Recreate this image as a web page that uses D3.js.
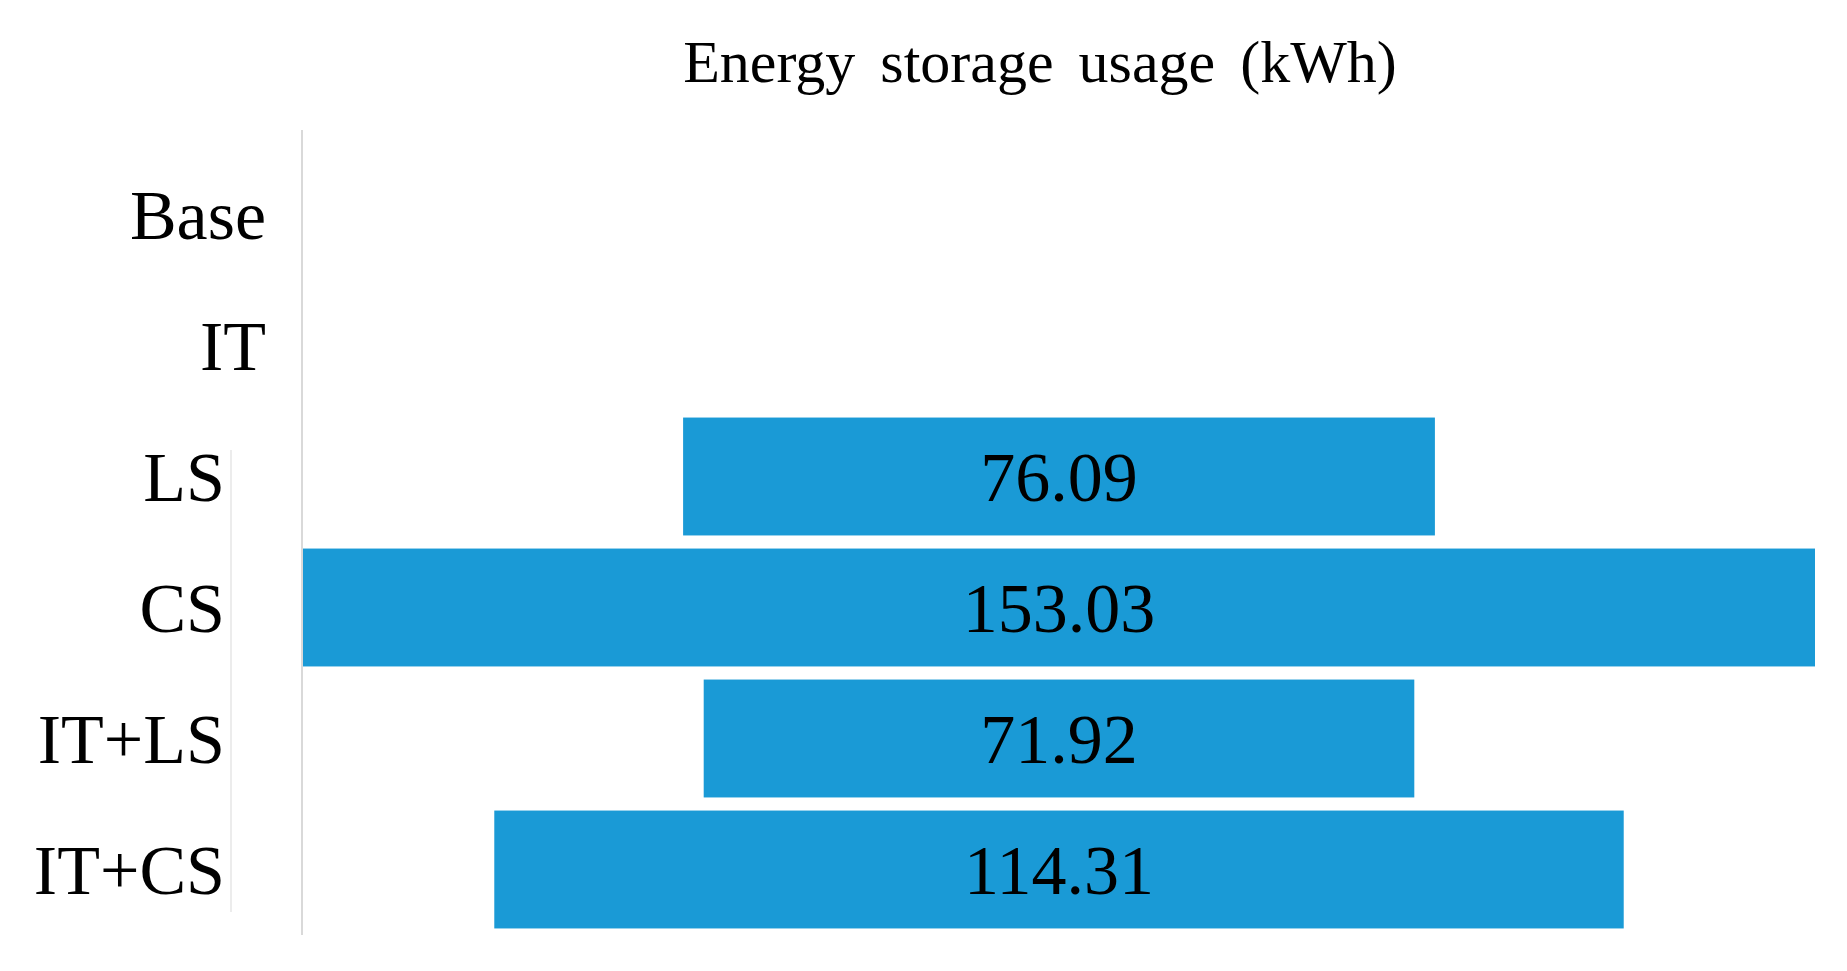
<!DOCTYPE html>
<html><head><meta charset="utf-8">
<script src="https://cdn.jsdelivr.net/npm/d3@7"></script>
<style>body{margin:0;background:#fff}</style></head>
<body><svg id="c" width="1847" height="971"></svg>
<script>
const categories = ["Base","IT","LS","CS","IT+LS","IT+CS"];
const values = [null,null,76.09,153.03,71.92,114.31];
const labelRight = [266,266,225,225,225,225];

const svg = d3.select("#c");
const font = "'Liberation Serif','Times New Roman',serif";
const maxV = d3.max(values);
const x = d3.scaleLinear().domain([-maxV/2, maxV/2]).range([303,1815]);
const y = d3.scaleBand().domain(categories).range([149,935]).paddingInner(0.1).paddingOuter(0.05);

svg.append("text").attr("x",1040).attr("y",82).attr("text-anchor","middle")
  .attr("font-family",font).attr("font-size",60).attr("word-spacing",10).text("Energy storage usage (kWh)");

svg.append("line").attr("x1",302).attr("x2",302).attr("y1",130).attr("y2",935).attr("stroke","#d9d9d9").attr("stroke-width",2);
svg.append("line").attr("x1",231).attr("x2",231).attr("y1",450).attr("y2",912).attr("stroke","#e6e6e6").attr("stroke-width",1.5);

const data = categories.map((c,i)=>({c,v:values[i],lr:labelRight[i]}));
svg.selectAll("rect.bar").data(data.filter(d=>d.v!=null)).join("rect")
  .attr("x",d=>x(-d.v/2)).attr("width",d=>x(d.v/2)-x(-d.v/2))
  .attr("y",d=>y(d.c)).attr("height",y.bandwidth()).attr("fill","#1a9ad6");
svg.selectAll("text.val").data(data.filter(d=>d.v!=null)).join("text")
  .attr("x",x(0)).attr("y",d=>y(d.c)+y.bandwidth()/2).attr("dy","0.35em")
  .attr("text-anchor","middle").attr("font-family",font).attr("font-size",70)
  .text(d=>d.v.toFixed(2));
svg.selectAll("text.lab").data(data).join("text")
  .attr("x",d=>d.lr).attr("y",d=>y(d.c)+y.bandwidth()/2).attr("dy","0.35em")
  .attr("text-anchor","end").attr("font-family",font).attr("font-size",70)
  .text(d=>d.c);
</script></body></html>
